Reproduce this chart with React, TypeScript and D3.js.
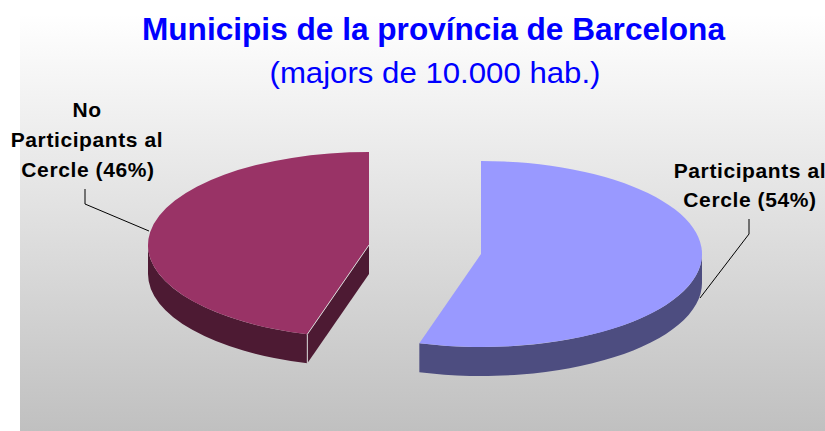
import React from "react";
import * as d3 from "d3";

const categories = ["Participants al Cercle", "No Participants al Cercle"];
const values = [54.5, 45.5];
const sliceColors = ["#9999ff", "#993366"];
const sideColors = ["#4d4d80", "#4d1a33"];
const titleText = "Municipis de la província de Barcelona";
const subtitleText = "(majors de 10.000 hab.)";

const W = 825;
const H = 431;
const RX = 221;
const RY = 93;
const DEPTH = 29;
const centers: [number, number][] = [
  [481, 254],
  [369, 245],
];

const pieGen = d3.pie<number>().sort(null).startAngle(0).endAngle(2 * Math.PI);
const arcs = pieGen(values);

function pt(c: [number, number], a: number, dy = 0): [number, number] {
  return [c[0] + RX * Math.sin(a), c[1] - RY * Math.cos(a) + dy];
}

function topPath(c: [number, number], a0: number, a1: number) {
  const p0 = pt(c, a0);
  const p1 = pt(c, a1);
  const large = a1 - a0 > Math.PI ? 1 : 0;
  return `M${c[0]},${c[1]}L${p0[0]},${p0[1]}A${RX},${RY} 0 ${large} 1 ${p1[0]},${p1[1]}Z`;
}

function sidePath(c: [number, number], a0: number, a1: number) {
  const s = Math.max(a0, Math.PI / 2);
  const e = Math.min(a1, (3 * Math.PI) / 2);
  if (e <= s) return "";
  const p0 = pt(c, s);
  const p1 = pt(c, e);
  const q0 = pt(c, s, DEPTH);
  const q1 = pt(c, e, DEPTH);
  return `M${p0[0]},${p0[1]}A${RX},${RY} 0 0 1 ${p1[0]},${p1[1]}L${q1[0]},${q1[1]}A${RX},${RY} 0 0 0 ${q0[0]},${q0[1]}Z`;
}

const labelFont = "'Liberation Sans', Arial, sans-serif";

export default function App() {
  const redC = centers[1];
  const redStart = pt(redC, arcs[1].startAngle);
  return (
    <svg
      width={W}
      height={H}
      style={{ position: "absolute", left: 0, top: 0, display: "block" }}
      fontFamily={labelFont}
    >
      <defs>
        <linearGradient id="bg" x1="0" y1="0" x2="0" y2="1">
          <stop offset="0" stopColor="#ffffff" />
          <stop offset="1" stopColor="#c0c0c0" />
        </linearGradient>
      </defs>
      <rect x={20} y={14} width={W - 20} height={H - 14} fill="url(#bg)" />

      <text x={433.5} y={40} textAnchor="middle" fontSize={31} fontWeight="bold" fill="#0000ff" textLength={583} lengthAdjust="spacingAndGlyphs">
        {titleText}
      </text>
      <text x={435} y={83} textAnchor="middle" fontSize={30} fill="#0000ff" textLength={331} lengthAdjust="spacingAndGlyphs">
        {subtitleText}
      </text>

      {arcs.map((d, i) => (
        <g key={categories[i]}>
          <path d={sidePath(centers[i], d.startAngle, d.endAngle)} fill={sideColors[i]} />
          {i === 1 && (
            <path
              d={`M${redC[0]},${redC[1]}L${redC[0]},${redC[1] + DEPTH}L${redStart[0]},${redStart[1] + DEPTH}L${redStart[0]},${redStart[1]}Z`}
              fill={sideColors[i]}
            />
          )}
          <path d={topPath(centers[i], d.startAngle, d.endAngle)} fill={sliceColors[i]} />
        </g>
      ))}
      <path
        d={`M${redC[0]},${redC[1]}L${redStart[0]},${redStart[1]}L${redStart[0]},${redStart[1] + DEPTH}`}
        fill="none"
        stroke="#d8d8d8"
        strokeWidth={1}
      />

      <polyline points="85,189 85,204 149,231" fill="none" stroke="#000" strokeWidth={1} />
      <polyline points="749,219 749,234 700,298" fill="none" stroke="#000" strokeWidth={1} />

      <g fontSize={21} fontWeight="bold" fill="#000" textAnchor="middle" letterSpacing={0.6}>
        <text x={87} y={117}>No</text>
        <text x={87} y={147}>Participants al</text>
        <text x={88} y={177}>Cercle (46%)</text>
        <text x={750} y={178}>Participants al</text>
        <text x={750} y={207}>Cercle (54%)</text>
      </g>
    </svg>
  );
}
